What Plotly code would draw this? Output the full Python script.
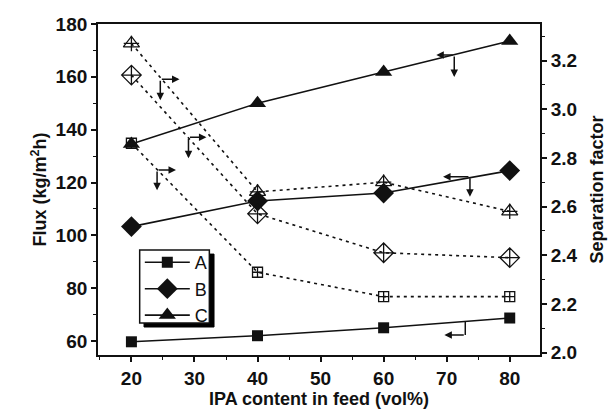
import plotly.graph_objects as go

x_vals = [20, 40, 60, 80]
flux_A = [59.7, 62.0, 65.0, 68.7]
flux_B = [103.3, 113.0, 116.0, 124.5]
flux_C = [134.6, 150.0, 161.8, 173.6]
sep_A = [2.86, 2.33, 2.23, 2.23]
sep_B = [3.14, 2.57, 2.41, 2.39]
sep_C = [3.27, 2.66, 2.70, 2.58]
names = ["A", "B", "C"]

BLK = "#111111"
fig = go.Figure()

# separation factor (dashed, open markers, right axis)
for ys, sym, sz in [(sep_A, "square-cross-open", 10), (sep_B, "diamond-cross-open", 15),
                    (sep_C, "triangle-up-open", 14)]:
    fig.add_trace(go.Scatter(x=x_vals, y=ys, yaxis="y2", mode="lines+markers",
                             line=dict(color=BLK, width=1.6, dash="3px,4px"),
                             marker=dict(symbol=sym, size=sz, color=BLK, line=dict(width=1.3, color=BLK)),
                             showlegend=False))
fig.add_trace(go.Scatter(x=x_vals, y=sep_C, yaxis="y2", mode="markers",
                         marker=dict(symbol="cross-thin-open", size=11, color=BLK,
                                     line=dict(width=1.3, color=BLK)),
                         showlegend=False))

# flux (solid, filled markers, left axis)
for ys, sym, sz, nm in [(flux_A, "square", 11, names[0]), (flux_B, "diamond", 16, names[1]),
                        (flux_C, "triangle-up", 15, names[2])]:
    fig.add_trace(go.Scatter(x=x_vals, y=ys, mode="lines+markers", name=nm,
                             line=dict(color=BLK, width=1.6),
                             marker=dict(symbol=sym, size=sz, color=BLK)))

# L-shaped arrows (annotations)
arrows = [
    ((24.58, 159.05), (27.63, 159.05), (24.58, 151.1)),
    ((29.05, 137.1), (31.9, 137.1), (29.05, 129.15)),
    ((24.07, 124.7), (27.07, 124.7), (24.07, 117.1)),
    ((71.2, 168.25), (68.36, 168.25), (71.2, 159.9)),
    ((73.69, 122.2), (69.43, 122.2), (73.69, 114.6)),
]
ann = []
for corner, th, td in arrows:
    for tip in (th, td):
        ann.append(dict(x=tip[0], y=tip[1], ax=corner[0], ay=corner[1], xref="x", yref="y",
                        axref="x", ayref="y", showarrow=True, arrowhead=2, arrowsize=1.0,
                        arrowwidth=1.5, arrowcolor=BLK, text=""))
ann.append(dict(x=69.63, y=62.27, ax=72.95, ay=62.27, xref="x", yref="y", axref="x", ayref="y",
                showarrow=True, arrowhead=2, arrowsize=1.0, arrowwidth=1.5, arrowcolor=BLK, text=""))
shapes = [dict(type="line", x0=72.95, x1=72.95, y0=62.27, y1=67.3, xref="x", yref="y",
               line=dict(color=BLK, width=1.5)),
          # legend shadow and box
          dict(type="rect", xref="x", yref="y", x0=22.0, x1=33.1, y0=65.3, y1=92.9,
               fillcolor="black", line=dict(width=1, color="black"), layer="above"),
          dict(type="rect", xref="x", yref="y", x0=21.31, x1=32.36, y0=66.81, y1=94.44,
               fillcolor="white", line=dict(width=1.5, color=BLK), layer="above")]

tickf = dict(family="Liberation Sans", size=19, color=BLK, weight="bold")
titlef = dict(family="Liberation Sans", size=18, color=BLK, weight="bold")

fig.update_layout(
    width=616, height=416,
    margin=dict(l=98, r=74, t=24, b=61),
    paper_bgcolor="white", plot_bgcolor="white",
    annotations=ann, shapes=shapes,
    legend=dict(x=0.0946, y=0.335, xanchor="left", yanchor="top", bgcolor="rgba(0,0,0,0)",
                borderwidth=0, itemwidth=45, tracegroupgap=0,
                font=dict(family="Liberation Sans", size=18, color=BLK)),
    xaxis=dict(range=[14.7, 84.8], tickvals=[20, 30, 40, 50, 60, 70, 80], ticks="outside", ticklen=5,
               tickwidth=1.5, tickcolor=BLK, showline=True, linewidth=1.8, linecolor=BLK, mirror=True,
               showgrid=False, zeroline=False, tickfont=tickf,
               minor=dict(dtick=5, tick0=15, ticks="outside", ticklen=3, tickwidth=1.2, tickcolor=BLK),
               title=dict(text="IPA content in feed (vol%)", font=titlef, standoff=2)),
    yaxis=dict(range=[54.7, 180], tickvals=[60, 80, 100, 120, 140, 160, 180], ticks="outside", ticklen=5,
               tickwidth=1.5, tickcolor=BLK, showline=True, linewidth=1.8, linecolor=BLK,
               showgrid=False, zeroline=False, tickfont=tickf,
               minor=dict(dtick=10, tick0=50, ticks="outside", ticklen=3, tickwidth=1.2, tickcolor=BLK),
               title=dict(text="Flux (kg/m<sup>2</sup>h)", font=titlef, standoff=4)),
    yaxis2=dict(range=[1.99, 3.35], overlaying="y", side="right", tickvals=[2.0, 2.2, 2.4, 2.6, 2.8, 3.0, 3.2],
                ticktext=["2.0", "2.2", "2.4", "2.6", "2.8", "3.0", "3.2"], ticks="outside", ticklen=5,
                tickwidth=1.5, tickcolor=BLK, showline=True, linewidth=1.8, linecolor=BLK,
                showgrid=False, zeroline=False, tickfont=tickf,
                minor=dict(dtick=0.1, tick0=2.0, ticks="outside", ticklen=3, tickwidth=1.2, tickcolor=BLK),
                title=dict(text="Separation factor", font=titlef, standoff=14)),
)

fig.write_html("out.html")
